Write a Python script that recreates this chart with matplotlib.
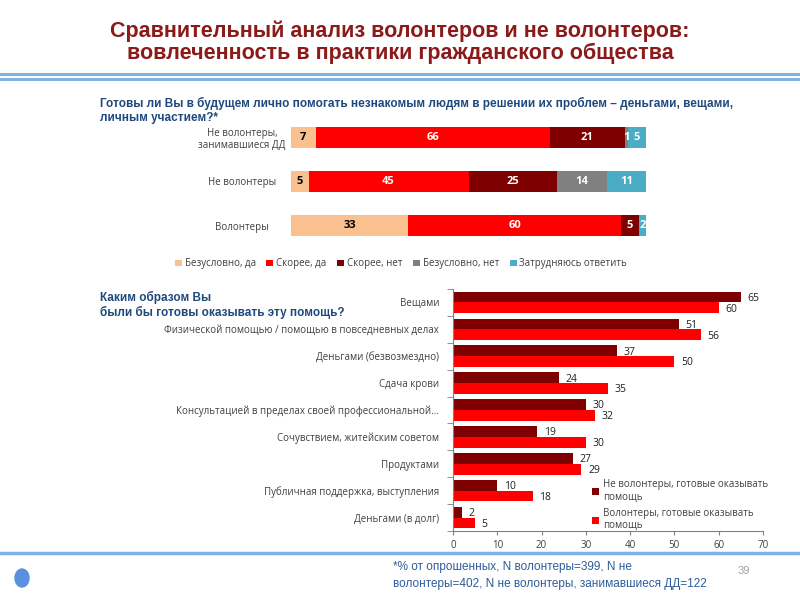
import numpy as np
import matplotlib.pyplot as plt
from matplotlib.patches import Ellipse

# ---- data: top chart (stacked, %) ----
groups = ['Не волонтеры,\nзанимавшиеся ДД', 'Не волонтеры', 'Волонтеры']
answer_labels = ['Безусловно, да', 'Скорее, да', 'Скорее, нет',
                 'Безусловно, нет', 'Затрудняюсь ответить']
certainly_yes = [7, 5, 33]
rather_yes = [66, 45, 60]
rather_no = [21, 25, 5]
certainly_no = [1, 14, 0]
hard_to_say = [5, 11, 2]

# ---- data: bottom chart (grouped, %) ----
ways = ['Вещами', 'Физической помощью / помощью в повседневных делах',
        'Деньгами (безвозмездно)', 'Сдача крови',
        'Консультацией в пределах своей профессиональной...',
        'Сочувствием, житейским советом', 'Продуктами',
        'Публичная поддержка, выступления', 'Деньгами (в долг)']
nonvol_ready = [65, 51, 37, 24, 30, 19, 27, 10, 2]
vol_ready = [60, 56, 50, 35, 32, 30, 29, 18, 5]
series_names = ['Не волонтеры, готовые оказывать\nпомощь',
                'Волонтеры, готовые оказывать\nпомощь']

title_font = ['Liberation Sans', 'DejaVu Sans']
body_font = ['Open Sans', 'DejaVu Sans']
plt.rcParams['font.family'] = body_font

PEACH, RED, DARK, GRAY, CYAN = '#FAC090', '#FF0000', '#7F0000', '#808080', '#4BACC6'
NAVY = '#1F497D'

fig = plt.figure(figsize=(8, 6), dpi=100)

# header
fig.text(0.5, 1 - 31 / 600, 'Сравнительный анализ волонтеров и не волонтеров:',
         ha='center', va='center', fontsize=15.5, fontweight='bold',
         color='#8B1A1A', family=title_font)
fig.text(0.5, 1 - 53 / 600, 'вовлеченность в практики гражданского общества',
         ha='center', va='center', fontsize=15.5, fontweight='bold',
         color='#8B1A1A', family=title_font)
for yy in (1 - 74 / 600, 1 - 79 / 600):
    fig.add_artist(plt.Line2D([0, 1], [yy, yy], color='#7FB2E5', lw=2.2))
fig.add_artist(plt.Line2D([0, 1], [1 - 553 / 600] * 2, color='#7FB2E5', lw=2.5))

fig.text(0.125, 1 - 103 / 600,
         'Готовы ли Вы в будущем лично помогать незнакомым людям в решении их проблем – деньгами, вещами,',
         ha='left', va='center', fontsize=8.5, fontweight='bold', color=NAVY,
         family=title_font)
fig.text(0.125, 1 - 118 / 600, 'личным участием?*',
         ha='left', va='center', fontsize=8.5, fontweight='bold', color=NAVY,
         family=title_font)

# ---- top stacked chart ----
ax1 = fig.add_axes([291 / 800, 1 - 248 / 600, 355 / 800, 133 / 600])
y = np.arange(len(groups))
series = [certainly_yes, rather_yes, rather_no, certainly_no, hard_to_say]
colors = [PEACH, RED, DARK, GRAY, CYAN]
left = np.zeros(len(groups))
for vals, col, name in zip(series, colors, answer_labels):
    vals = np.array(vals, dtype=float)
    ax1.barh(y, vals, left=left, height=0.48, color=col, label=name)
    for yi, v, l in zip(y, vals, left):
        if v > 0:
            tc = 'black' if col == PEACH else 'white'
            ax1.text(l + v / 2, yi, f'{int(v)}', ha='center', va='center',
                     fontsize=8, fontweight='bold', color=tc)
    left += vals
ax1.set_xlim(0, 100)
ax1.set_ylim(len(groups) - 0.5, -0.5)
ax1.set_yticks(y)
ax1.set_yticklabels(groups, fontsize=7, color='#404040')
ax1.tick_params(axis='y', length=0, pad=6)
ax1.set_xticks([])
for s in ax1.spines.values():
    s.set_visible(False)
for lbl in ax1.get_yticklabels():
    lbl.set_horizontalalignment('center')
    lbl.set_x(-0.115)
ax1.legend(loc='center', bbox_to_anchor=(0.31, -0.12), ncol=5, frameon=False,
           fontsize=7, handlelength=0.7, handleheight=0.7, handletextpad=0.3,
           columnspacing=1.1, labelcolor='#404040')

# ---- bottom grouped chart ----
fig.text(0.125, 1 - 297 / 600, 'Каким образом Вы', ha='left', va='center',
         fontsize=8.5, fontweight='bold', color=NAVY, family=title_font)
fig.text(0.125, 1 - 312 / 600, 'были бы готовы оказывать эту помощь?',
         ha='left', va='center', fontsize=8.5, fontweight='bold', color=NAVY,
         family=title_font)

ax2 = fig.add_axes([453 / 800, 1 - 531 / 600, 310 / 800, 242 / 600])
yy2 = np.arange(len(ways))
h = 0.4
b1 = ax2.barh(yy2 - h / 2, nonvol_ready, height=h, color=DARK, label=series_names[0])
b2 = ax2.barh(yy2 + h / 2, vol_ready, height=h, color=RED, label=series_names[1])
for bars, vals in ((b1, nonvol_ready), (b2, vol_ready)):
    for r, v in zip(bars, vals):
        ax2.text(r.get_width() + 1.5, r.get_y() + r.get_height() / 2 + 0.05,
                 f'{v}', ha='left', va='center', fontsize=7.5, color='#202020')
ax2.set_xlim(0, 70)
ax2.set_xticks(range(0, 71, 10))
ax2.set_ylim(len(ways) - 0.5, -0.5)
ax2.set_yticks(yy2)
ax2.set_yticklabels(ways, fontsize=7, color='#404040')
ax2.set_yticks(np.arange(-0.5, len(ways), 1), minor=True)
ax2.tick_params(axis='y', which='major', length=0, pad=10)
ax2.tick_params(axis='y', which='minor', length=4, color='#808080', direction='out')
ax2.tick_params(axis='x', labelsize=7, labelcolor='#404040', length=3,
                color='#808080')
for side in ('top', 'right'):
    ax2.spines[side].set_visible(False)
for side in ('left', 'bottom'):
    ax2.spines[side].set_color('#808080')
ax2.legend(loc='upper left', bbox_to_anchor=(0.42, 0.25), frameon=False,
           fontsize=7, handlelength=0.7, handleheight=0.7, handletextpad=0.4,
           labelspacing=0.5, labelcolor='#404040')

# footer
fig.text(393 / 800, 1 - 567 / 600, '*% от опрошенных, N волонтеры=399, N не',
         ha='left', va='center', fontsize=8.5, color='#2E5C9A', family=title_font)
fig.text(393 / 800, 1 - 584 / 600,
         'волонтеры=402, N не волонтеры, занимавшиеся ДД=122',
         ha='left', va='center', fontsize=8.5, color='#2E5C9A', family=title_font)
fig.text(744 / 800, 1 - 571 / 600, '39', ha='center', va='center', fontsize=8,
         color='#A0A0A0', family=title_font)
fig.add_artist(Ellipse((22 / 800, 1 - 578 / 600), 14 / 800, 18 / 600,
                       color='#5B8FE0'))

fig.savefig('out.png', dpi=100)
